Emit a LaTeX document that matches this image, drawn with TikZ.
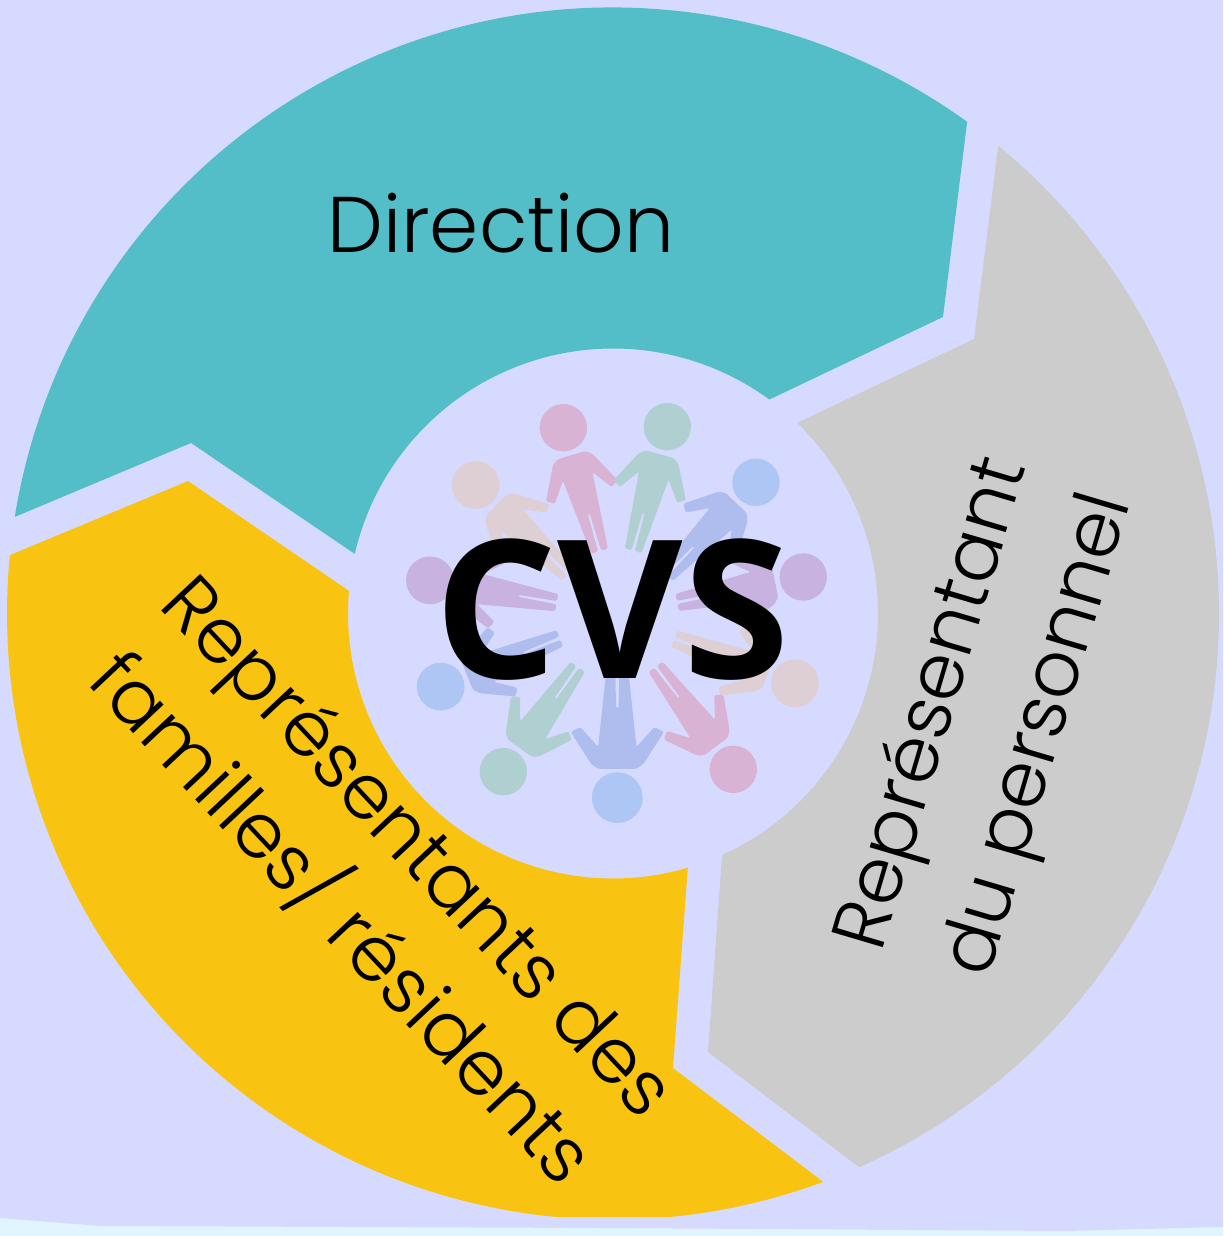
\documentclass[tikz,border=0pt]{standalone}
\usepackage{fontspec}
\newfontfamily\labelfont{Poppins}[UprightFont=* Light]
\newfontfamily\titlefont{Open Sans}[UprightFont=* Bold]
\definecolor{bgblue}{HTML}{D7DAFF}
\definecolor{stripblue}{HTML}{E0F5FF}
\definecolor{tealseg}{HTML}{54BEC8}
\definecolor{grayseg}{HTML}{CCCCCC}
\definecolor{yellowseg}{HTML}{F9C312}
\definecolor{ppink}{HTML}{D8B3D3}
\definecolor{pgreen}{HTML}{B0CFD0}
\definecolor{pblue}{HTML}{AEC6F4}
\definecolor{pbluebody}{HTML}{AEBDEE}
\definecolor{ppurple}{HTML}{C8B2E0}
\definecolor{ppeach}{HTML}{DECFD5}
\tikzset{
  seglabel/.style={font=\labelfont\fontsize{76.5}{105}\selectfont, align=center, text=black, inner sep=0pt},
  titlelabel/.style={font=\titlefont\fontsize{193}{193}\selectfont, text=black, inner sep=0pt, anchor=base},
}
% x, y of the head (in zoomed units), rotation, head colour, body colour, body widening, head radius
\newcommand{\personfig}[7]{%
  \begin{scope}[shift={(#1,#2)}, rotate=#3, y=.3333pt]
    \fill[#4] (0,0) circle[radius=#7pt];
    \begin{scope}[xscale=#6]
    \fill[#5, rounded corners=1.6pt]
      (-3,268) -- (-5,386) -- (-26,386) -- (-46,152) -- (-89,212) -- (-112,197)
      -- (-62,100) -- (-44,86) -- (44,86) -- (62,100) -- (112,197) -- (89,212) -- (46,152)
      -- (26,386) -- (5,386) -- (3,268) -- cycle;
    \end{scope}
  \end{scope}}
\begin{document}
\begin{tikzpicture}[x=1pt,y=-1pt]
  \useasboundingbox (0,0) rectangle (1223,1236);
  \fill[stripblue] (0,0) rectangle (1223,1236);
  \fill[bgblue] (0,0) -- (1223,0) -- (1223,1227) -- (1065,1231) -- (600,1228)
     -- (100,1226) -- (0,1218) -- cycle;
  \coordinate (c) at (613,613.5);
  % teal
  \fill[tealseg] ([shift={(170.83:606pt)}]c) arc[start angle=170.83,end angle=54.24,radius=606pt]
     -- (943,317) -- ([shift={(53.85:265pt)}]c) arc[start angle=53.85,end angle=167,radius=265pt]
     -- (191,443) -- cycle;
  % gray
  \fill[grayseg] ([shift={(50.53:606pt)}]c) arc[start angle=50.53,end angle=-66.04,radius=606pt]
     -- (708,1052) -- ([shift={(-65.7:265pt)}]c) arc[start angle=-65.7,end angle=46,radius=265pt]
     -- (974,339) -- cycle;
  % yellow
  \begin{scope}
    \clip (0,0) rectangle (1223,1216);
    \fill[yellowseg] ([shift={(-69.7:606pt)}]c) arc[start angle=-69.7,end angle=-185.53,radius=606pt]
       -- (188,481) -- ([shift={(175.1:265pt)}]c) arc[start angle=175.1,end angle=286.4,radius=265pt]
       -- (673,1068) -- cycle;
  \end{scope}
  % people
  \begin{scope}[shift={(390,390)}, x=.3333pt, y=-.3333pt]
    \personfig{520}{113}{-163.6}{ppink}{ppink}{1}{23.7}
    \personfig{832}{110}{164.6}{pgreen}{pgreen}{1}{23.7}
    \personfig{1098}{277}{136}{pblue}{pbluebody}{1}{23.7}
    \personfig{1240}{561}{101.4}{ppurple}{ppurple}{1}{23.7}
    \personfig{1215}{880}{69.7}{ppeach}{ppeach}{1}{23.9}
    \personfig{1030}{1138}{37.2}{ppink}{ppink}{1}{23.7}
    \personfig{682}{1223}{0}{pblue}{pbluebody}{1.25}{25.4}
    \personfig{340}{1145}{-35.4}{pgreen}{pgreen}{1}{23.7}
    \personfig{152}{890}{-67.9}{pblue}{pbluebody}{1}{23.9}
    \personfig{120}{571}{-100}{ppurple}{ppurple}{1}{23.9}
    \personfig{257}{285}{-134}{ppeach}{ppeach}{1}{23.9}
  \end{scope}
  % labels
  \node[titlelabel] (cvs) at (612,678) {CVS};
  \node[seglabel, font=\labelfont\fontsize{79}{105}\selectfont, anchor=base] (direction) at (501,252) {Direction};
  \node[seglabel, font=\labelfont\fontsize{76.5}{110}\selectfont, rotate=73.5] (personnel) at (988,720) {Représentant\\du personnel};
  \node[seglabel, rotate=-46.8] (familles) at (378,884) {Représentants des\\familles/ résidents};
\end{tikzpicture}
\end{document}
